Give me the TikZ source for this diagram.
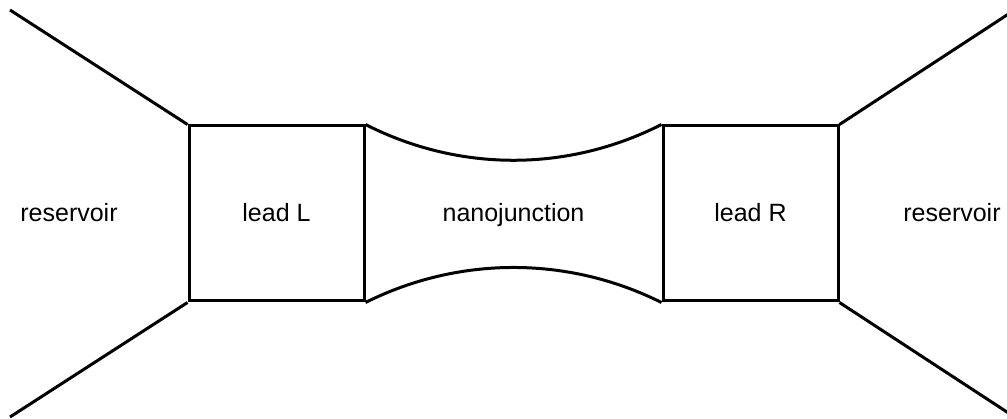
\documentclass[tikz,border=0pt]{standalone}
\usepackage{fontspec}
\setmainfont{Liberation Sans}
\usepackage{tikz}
\usetikzlibrary{positioning, calc}

\begin{document}
\begin{tikzpicture}[
  x=1pt, y=1pt,
  wall/.style={line width=3pt, line join=miter},
  leadbox/.style={draw, line width=3pt, minimum width=175pt,
                  minimum height=175pt, inner sep=0pt},
  lbl/.style={font=\fontsize{25}{30}\selectfont, anchor=base, inner sep=0pt},
  node distance=296pt,
]
  \useasboundingbox (0,0) rectangle (1007,418);

  % the two leads
  \node[leadbox] (leadL) at (276.5,204.5) {};
  \node[leadbox, right=of leadL] (leadR) {};

  % free ends of the reservoir walls
  \coordinate (tl) at (10,408);
  \coordinate (bl) at (10,1);
  \coordinate (tr) at (1010,405);
  \coordinate (br) at (1010,4);

  % labels
  \node[lbl] (resL) at (69,196) {reservoir};
  \node[lbl] (labL) at (276.5,196) {lead L};
  \node[lbl] (nano) at (513.5,196) {nanojunction};
  \node[lbl] (labR) at (750.5,196) {lead R};
  \node[lbl] (resR) at (952,196) {reservoir};

  % reservoirs
  \draw[wall] (tl) -- (leadL.north west);
  \draw[wall] (bl) -- (leadL.south west);
  \draw[wall] (tr) -- (leadR.north east);
  \draw[wall] (br) -- (leadR.south east);

  % junction
  \draw[wall] (leadL.north east) .. controls +(93.6,-47.7) and +(-93.6,-47.7) .. (leadR.north west);
  \draw[wall] (leadL.south east) .. controls +(93.6,46.7) and +(-93.6,46.7) .. (leadR.south west);
\end{tikzpicture}
\end{document}
